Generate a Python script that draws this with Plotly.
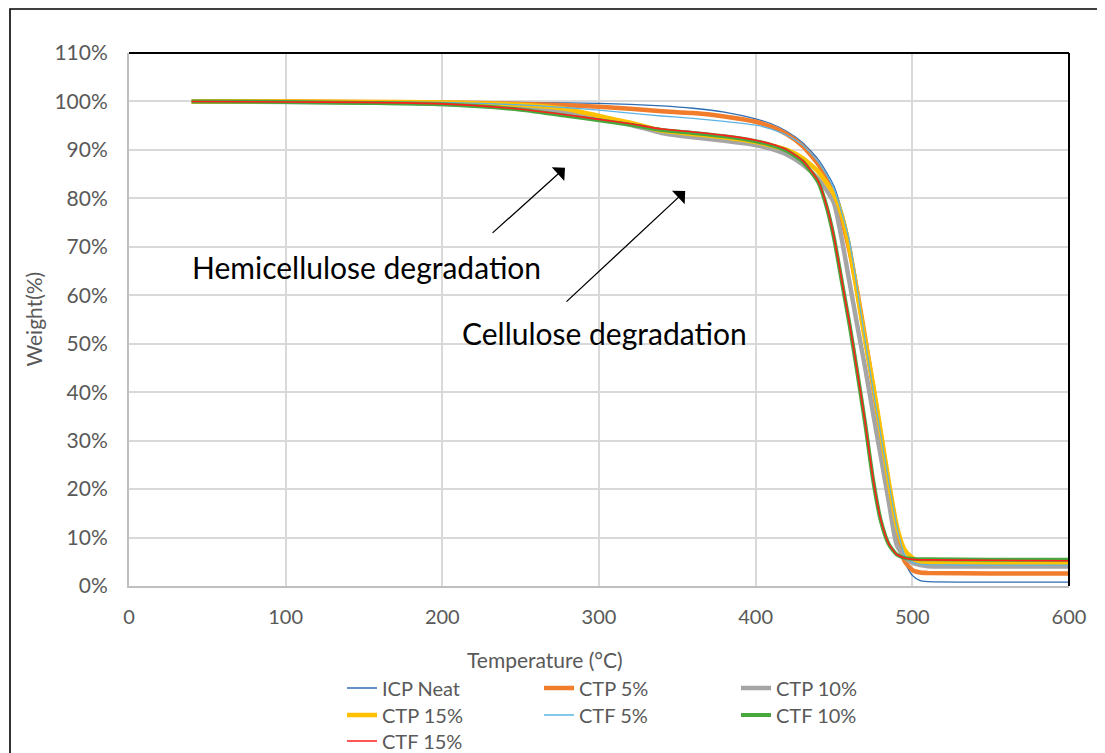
import plotly.graph_objects as go

# ---------------- data ----------------
temperature = [40, 100, 150, 200, 250, 280, 300, 320, 340, 360, 380, 400, 410, 420, 430, 440,
               445, 450, 455, 460, 465, 470, 475, 480, 485, 490, 495, 500, 505, 510, 550, 600]

icp_neat = [100.0, 100.0, 100.0, 99.9, 99.8, 99.7, 99.6, 99.4, 99.1, 98.6, 97.8, 96.4, 95.4, 93.8, 91.5, 88.0,
            85.5, 82.5, 77.5, 71.0, 61.5, 51.0, 41.0, 31.0, 21.0, 11.5, 5.0, 2.2, 1.1, 0.9, 0.8, 0.8]
ctp_5 = [100.0, 100.0, 99.9, 99.8, 99.5, 99.2, 98.9, 98.5, 98.0, 97.6, 96.9, 95.8, 94.8, 93.2, 90.8, 87.0,
         84.2, 80.5, 75.5, 69.0, 60.5, 51.0, 41.0, 31.0, 20.5, 10.5, 5.2, 3.3, 2.8, 2.7, 2.6, 2.6]
ctp_10 = [100.0, 99.9, 99.8, 99.5, 98.7, 97.6, 96.5, 95.2, 93.5, 92.6, 91.9, 91.0, 90.2, 89.0, 87.0, 84.0,
          81.8, 79.0, 71.5, 62.5, 53.5, 44.8, 35.5, 26.5, 17.3, 8.5, 6.0, 4.8, 4.3, 4.1, 4.0, 4.0]
ctp_15 = [100.0, 100.0, 99.9, 99.8, 99.3, 98.4, 97.0, 95.6, 94.0, 93.3, 92.6, 91.6, 90.9, 90.0, 88.3, 85.5,
          83.3, 80.8, 76.5, 69.5, 60.0, 50.5, 41.5, 31.5, 21.5, 12.5, 7.5, 5.8, 5.0, 4.9, 4.8, 4.8]
ctf_5 = [100.0, 100.0, 99.9, 99.8, 99.3, 98.7, 98.2, 97.6, 97.0, 96.5, 95.9, 95.1, 94.3, 93.0, 91.0, 87.5,
         85.0, 82.0, 77.0, 71.0, 61.0, 50.5, 40.5, 31.0, 21.5, 12.5, 6.5, 4.9, 4.5, 4.4, 4.3, 4.3]
ctf_10 = [100.0, 99.9, 99.7, 99.4, 98.3, 97.0, 96.1, 95.2, 94.1, 93.5, 92.8, 91.8, 91.0, 89.8, 87.6, 83.3,
          78.6, 71.8, 62.8, 53.8, 43.8, 33.3, 21.8, 13.3, 8.6, 6.5, 5.8, 5.6, 5.5, 5.5, 5.4, 5.4]
ctf_15 = [100.0, 99.9, 99.8, 99.5, 98.4, 97.2, 96.3, 95.4, 94.3, 93.7, 93.0, 92.0, 91.2, 90.0, 87.8, 83.5,
          78.8, 72.0, 63.0, 54.0, 44.0, 33.5, 22.0, 13.5, 8.7, 6.5, 5.8, 5.5, 5.4, 5.4, 5.3, 5.2]

series_names = ["ICP Neat", "CTP 5%", "CTP 10%", "CTP 15%", "CTF 5%", "CTF 10%", "CTF 15%"]
series_values = [icp_neat, ctp_5, ctp_10, ctp_15, ctf_5, ctf_10, ctf_15]

x_ticks = [0, 100, 200, 300, 400, 500, 600]
y_ticks = [0, 10, 20, 30, 40, 50, 60, 70, 80, 90, 100, 110]
y_tick_labels = [f"{v}%" for v in y_ticks]

# ---------------- styles ----------------
colors = ["#2E6DB4", "#F07C2C", "#A5A5A5", "#FFC000", "#5DB4E4", "#48A83E", "#FF1F1F"]
widths = [1.3, 4.5, 4.5, 4.5, 1.3, 4.0, 1.6]
legend_ids = ["legend", "legend", "legend", "legend2", "legend2", "legend2", "legend3"]

FONT = "Lato"
GREY_TXT = "#595959"

fig = go.Figure()
for name, vals, col, w, lg in zip(series_names, series_values, colors, widths, legend_ids):
    fig.add_trace(go.Scatter(
        x=temperature, y=vals, mode="lines", name=name,
        line=dict(color=col, width=w, shape="spline", smoothing=0.6),
        legend=lg,
    ))

# arrows
fig.add_annotation(x=278.3, y=86.3, ax=231.1, ay=72.6, xref="x", yref="y", axref="x", ayref="y",
                   text="", showarrow=True, arrowhead=1, arrowsize=2.4, arrowwidth=1.3, arrowcolor="black")
fig.add_annotation(x=355.0, y=81.5, ax=278.3, ay=58.4, xref="x", yref="y", axref="x", ayref="y",
                   text="", showarrow=True, arrowhead=1, arrowsize=2.4, arrowwidth=1.3, arrowcolor="black")
# texts
fig.add_annotation(x=38.9, y=65.8, xref="x", yref="y", text="Hemicellulose degradation", showarrow=False,
                   xanchor="left", yanchor="middle", font=dict(family=FONT, size=30, color="black"))
fig.add_annotation(x=211.3, y=52.2, xref="x", yref="y", text="Cellulose degradation", showarrow=False,
                   xanchor="left", yanchor="middle", font=dict(family=FONT, size=30, color="black"))
# axis titles
fig.add_annotation(x=0.4426, y=-0.137, xref="paper", yref="paper", text="Temperature (°C)", showarrow=False,
                   xanchor="center", yanchor="middle", font=dict(family=FONT, size=21, color=GREY_TXT))
fig.add_annotation(x=-0.1021, y=0.5, xref="paper", yref="paper", text="Weight(%)", showarrow=False,
                   textangle=-90, xanchor="center", yanchor="middle", font=dict(family=FONT, size=21, color=GREY_TXT))

# borders
fig.add_shape(type="rect", xref="paper", yref="paper", x0=-0.1266, y0=-0.40, x1=1.06, y1=1.0826,
              line=dict(color="black", width=1.6), layer="below")
fig.add_shape(type="line", xref="paper", yref="paper", x0=0, y0=1, x1=1, y1=1, line=dict(color="black", width=2))
fig.add_shape(type="line", xref="paper", yref="paper", x0=1, y0=0, x1=1, y1=1, line=dict(color="black", width=2))

legend_common = dict(orientation="h", font=dict(family=FONT, size=20, color=GREY_TXT),
                     bgcolor="rgba(0,0,0,0)", yanchor="middle", xanchor="left",
                     itemwidth=30, entrywidth=152, entrywidthmode="pixels")
fig.update_layout(
    width=1097, height=745,
    margin=dict(l=121, r=36, t=45, b=167, autoexpand=False),
    paper_bgcolor="white", plot_bgcolor="white",
    font=dict(family=FONT, color=GREY_TXT),
    legend=dict(x=0.2266, y=-0.1914, **legend_common),
    legend2=dict(x=0.2266, y=-0.2420, **legend_common),
    legend3=dict(x=0.2266, y=-0.2908, **legend_common),
    xaxis=dict(range=[0, 600], tickvals=x_ticks, showgrid=True, gridcolor="#D9D9D9", gridwidth=1.5,
               zeroline=False, showline=True, linecolor="#BFBFBF", linewidth=2, ticks="",
               tickfont=dict(family=FONT, size=20, color=GREY_TXT), ticklabelstandoff=12),
    yaxis=dict(range=[0, 110], tickvals=y_ticks, ticktext=y_tick_labels, showgrid=True, gridcolor="#D9D9D9",
               gridwidth=1.5, zeroline=False, showline=True, linecolor="#BFBFBF", linewidth=2, ticks="",
               tickfont=dict(family=FONT, size=21, color=GREY_TXT), ticklabelstandoff=15),
)

fig.write_html("out.html")
